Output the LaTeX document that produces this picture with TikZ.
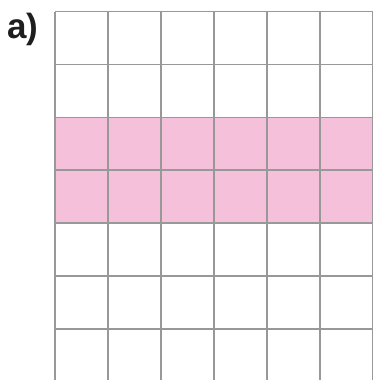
\documentclass[tikz,border=0pt]{standalone}
\usepackage{fontspec}
\setmainfont{Liberation Sans}
\usetikzlibrary{positioning}
\definecolor{gridpink}{RGB}{245,192,217}
\definecolor{gridgray}{RGB}{152,152,152}
\definecolor{labeldark}{RGB}{30,30,30}
\tikzset{
  grid line/.style={
    draw=gridgray,
    line width=1.4pt,
  },
  panel label/.style={
    font=\fontsize{35}{40}\selectfont\bfseries,
    text=labeldark,
    inner sep=0pt,
    anchor=base west,
  },
}
\begin{document}
\begin{tikzpicture}[x=1pt,y=-1pt]
  \useasboundingbox (0,0) rectangle (373,380);
  % pink band (rows 3 and 4)
  \fill[gridpink] (55,117.3) rectangle (372.7,223);
  % grid, open at the bottom
  \foreach \x in {55,108,161,214,267,320,372.7}
    \draw[grid line] (\x,11.7) -- (\x,380);
  \foreach \y in {11.7,64.5,117.3,170,223,276,329}
    \draw[grid line] (55,\y) -- (372.7,\y);
  \node[panel label] (lbl) at (7,38.5) {a)};
\end{tikzpicture}
\end{document}
